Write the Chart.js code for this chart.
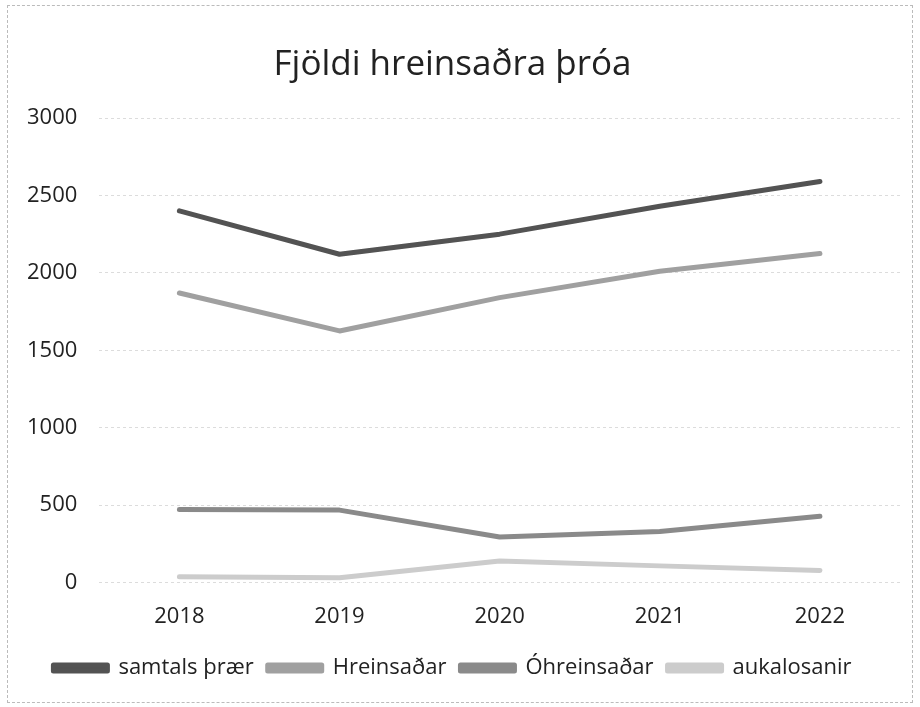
<!DOCTYPE html>
<html>
<head>
<meta charset="utf-8">
<script src="https://cdn.jsdelivr.net/npm/chart.js@4/dist/chart.umd.min.js"></script>
<style>
html,body{margin:0;padding:0;background:#fff;}
#wrap{position:absolute;left:7px;top:5px;width:906px;height:698px;border:1px dashed #bbb;box-sizing:border-box;}
canvas{display:block;}
</style>
</head>
<body>
<div id="wrap"><canvas id="c"></canvas></div>
<script>
const categories = ["2018", "2019", "2020", "2021", "2022"];
const samtals = [2400, 2120, 2250, 2430, 2590];
const hreinsadar = [1870, 1625, 1840, 2010, 2125];
const ohreinsadar = [472, 468, 295, 330, 428];
const aukalosanir = [38, 32, 140, 108, 78];
const seriesNames = ["samtals þrær", "Hreinsaðar", "Óhreinsaðar", "aukalosanir"];
const yTicks = [0, 500, 1000, 1500, 2000, 2500, 3000];

const colors = ["#535353", "#a0a0a0", "#8a8a8a", "#cccccc"];
const font = "'Open Sans', 'Noto Sans', sans-serif";

function ds(label, data, color) {
  return { label, data, borderColor: color, backgroundColor: color, borderWidth: 5,
    pointRadius: 0, tension: 0, borderCapStyle: 'round', borderJoinStyle: 'round' };
}

new Chart(document.getElementById('c'), {
  type: 'line',
  data: {
    labels: categories,
    datasets: [
      ds(seriesNames[0], samtals, colors[0]),
      ds(seriesNames[1], hreinsadar, colors[1]),
      ds(seriesNames[2], ohreinsadar, colors[2]),
      ds(seriesNames[3], aukalosanir, colors[3])
    ]
  },
  options: {
    responsive: true,
    maintainAspectRatio: false,
    animation: false,
    layout: { padding: { left: -3, right: 12, top: 38, bottom: 13 } },
    plugins: {
      title: {
        display: true, text: "Fjöldi hreinsaðra þróa", color: '#222',
        font: { family: font, size: 35, weight: 'normal' },
        padding: { top: 0, bottom: 32 }
      },
      legend: {
        position: 'bottom',
        labels: {
          color: '#222', boxWidth: 54, boxHeight: 6, padding: 14,
          font: { family: font, size: 22 }
        }
      },
      tooltip: { enabled: false }
    },
    scales: {
      x: {
        offset: true,
        afterFit: (scale) => { scale.height -= 8; },
        grid: { display: false, drawTicks: false },
        border: { display: false },
        ticks: { color: '#222', font: { family: font, size: 22 }, padding: 21 }
      },
      y: {
        min: 0, max: 3000,
        afterBuildTicks: (axis) => { axis.ticks = yTicks.map(v => ({ value: v })); },
        grid: { color: '#dcdcdc', lineWidth: 1, drawTicks: false },
        border: { display: false, dash: [3, 3] },
        ticks: { color: '#222', font: { family: font, size: 22 }, padding: 22,
          callback: (v) => String(v) }
      }
    }
  }
});
</script>
</body>
</html>
